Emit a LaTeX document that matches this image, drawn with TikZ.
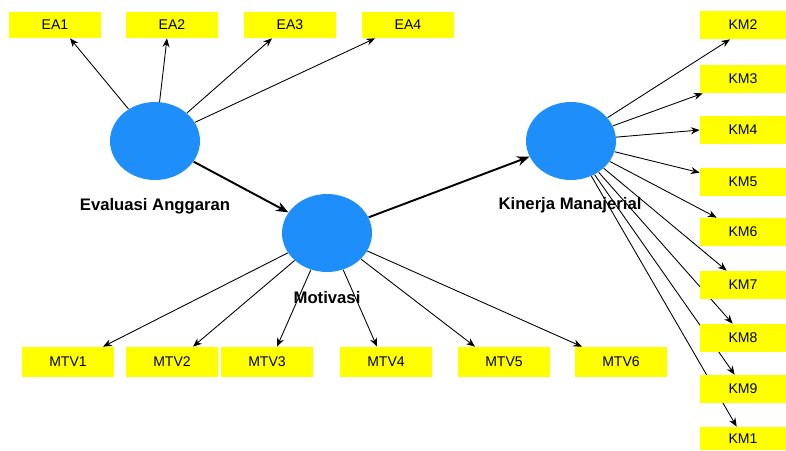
\documentclass[tikz,border=0pt]{standalone}
\usepackage{fontspec}
\setmainfont{Liberation Sans}
\usetikzlibrary{shapes.geometric,arrows.meta,calc}
\definecolor{indy}{RGB}{255,255,0}
\definecolor{latb}{RGB}{30,142,250}
\pgfdeclarelayer{bg}
\pgfsetlayers{bg,main}
\begin{document}
\begin{tikzpicture}[x=0.02cm,y=-0.02cm,
  ind/.style={fill=indy, minimum width=1.84cm, minimum height=0.52cm, inner sep=0pt, font=\fontsize{8}{9}\selectfont},
  kmbox/.style={ind, minimum width=1.72cm, minimum height=0.56cm},
  mtvbox/.style={ind, minimum height=0.6cm},
  lat/.style={ellipse, fill=latb, minimum width=1.8cm, minimum height=1.56cm, inner sep=0pt},
  lab/.style={font=\bfseries\fontsize{9.5}{11}\selectfont},
  load/.style={-{Stealth[length=5pt,width=4pt]}, line width=0.5pt},
  struct/.style={-{Stealth[length=7pt,width=5.5pt]}, line width=1.1pt}]
\useasboundingbox (0,0) rectangle (786,450);
% latent variables
\node[lat] (ea) at (155,141) {};
\node[lat] (mo) at (327,233) {};
\node[lat] (km) at (571,141) {};
\node[lab] (eal) at (155,206) {Evaluasi Anggaran};
\node[lab] (mol) at (327,298) {Motivasi};
\node[lab] (kml) at (570,205) {Kinerja Manajerial};
% EA indicators
\node[ind] (ea1) at (55,25) {EA1};
\node[ind] (ea2) at (172,25) {EA2};
\node[ind] (ea3) at (290,25) {EA3};
\node[ind] (ea4) at (408,25) {EA4};
% MTV indicators
\node[mtvbox] (m1) at (68,362) {MTV1};
\node[mtvbox] (m2) at (172,362) {MTV2};
\node[mtvbox] (m3) at (267,362) {MTV3};
\node[mtvbox] (m4) at (386,362) {MTV4};
\node[mtvbox] (m5) at (504,362) {MTV5};
\node[mtvbox] (m6) at (621,362) {MTV6};
% KM indicators
\node[kmbox] (k2) at (743,25) {KM2};
\node[kmbox] (k3) at (743,79) {KM3};
\node[kmbox] (k4) at (743,130) {KM4};
\node[kmbox] (k5) at (743,182) {KM5};
\node[kmbox] (k6) at (743,232) {KM6};
\node[kmbox] (k7) at (743,285) {KM7};
\node[kmbox] (k8) at (743,338) {KM8};
\node[kmbox] (k9) at (743,389) {KM9};
\node[kmbox, minimum height=0.46cm] (k1) at (743,438.5) {KM1};
\begin{pgfonlayer}{bg}
\draw[load] (ea) -- ($(ea1.south)+(15,0)$);
\draw[load] (ea) -- ($(ea2.south)+(-5,0)$);
\draw[load] (ea) -- ($(ea3.south)+(-18,0)$);
\draw[load] (ea) -- ($(ea4.south)+(-33,0)$);
\draw[load] (mo) -- ($(m1.north)+(35,0)$);
\draw[load] (mo) -- ($(m2.north)+(21,0)$);
\draw[load] (mo) -- ($(m3.north)+(10,0)$);
\draw[load] (mo) -- ($(m4.north)+(-9,0)$);
\draw[load] (mo) -- ($(m5.north)+(-29,0)$);
\draw[load] (mo) -- ($(m6.north)+(-39,0)$);
\draw[load] (km) -- ($(k2.south)+(-13,0)$);
\draw[load] (km) -- ($(k3.south west)+(3,0)$);
\draw[load] (km) -- (k4.west);
\draw[load] (km) -- ($(k5.north west)+(0,5)$);
\draw[load] (km) -- ($(k6.north west)+(17,0)$);
\draw[load] (km) -- ($(k7.north west)+(27,0)$);
\draw[load] (km) -- ($(k8.north west)+(33,0)$);
\draw[load] (km) -- ($(k9.north west)+(35,0)$);
\draw[load] (km) -- ($(k1.north west)+(37,0)$);
\draw[struct] (ea) -- (mo);
\draw[struct] (mo) -- (km);
\end{pgfonlayer}
\end{tikzpicture}
\end{document}
